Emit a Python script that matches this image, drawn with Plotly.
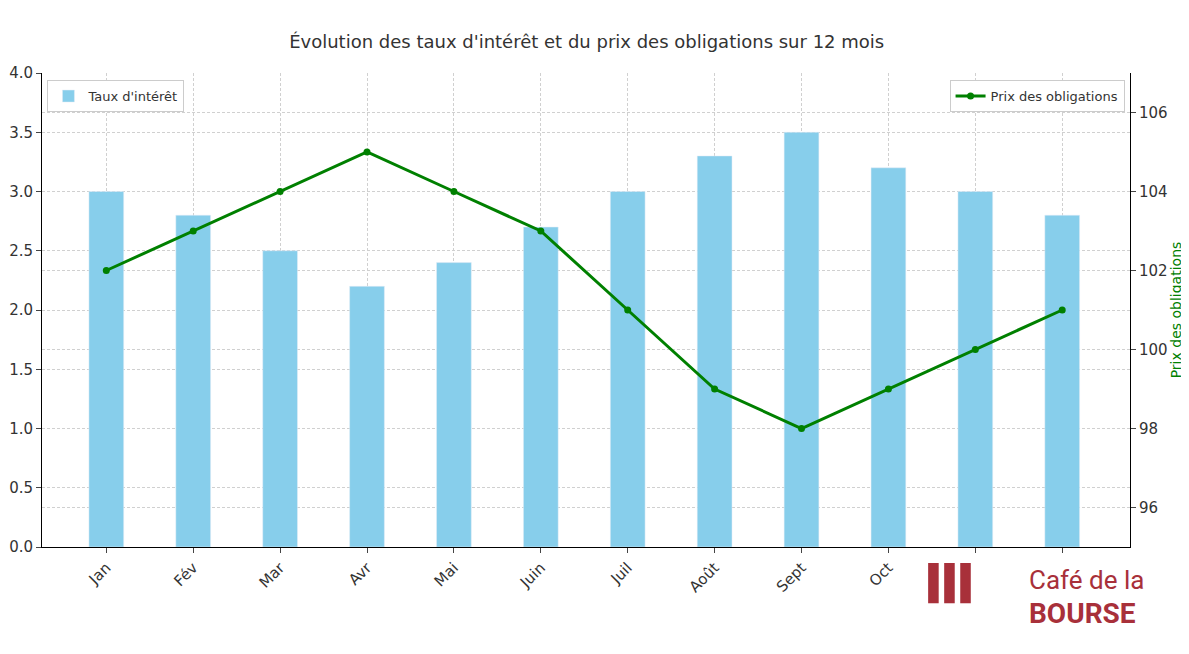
import plotly.graph_objects as go

months = ['Jan', 'Fév', 'Mar', 'Avr', 'Mai', 'Juin', 'Juil', 'Août', 'Sept', 'Oct', 'Nov', 'Déc']
taux = [3.0, 2.8, 2.5, 2.2, 2.4, 2.7, 3.0, 3.3, 3.5, 3.2, 3.0, 2.8]
prix = [102, 103, 104, 105, 104, 103, 101, 99, 98, 99, 100, 101]

fig = go.Figure()
fig.add_trace(go.Bar(x=months, y=taux, name="Taux d'intérêt", marker_color='#87CEEB',
                     width=0.4, legend='legend', showlegend=True))
fig.add_trace(go.Scatter(x=months, y=prix, name='Prix des obligations', yaxis='y2',
                         mode='lines+markers', line=dict(color='green', width=3),
                         marker=dict(size=7, color='green'), legend='legend2', showlegend=True))

grid = dict(showgrid=True, gridcolor='#d0d0d0', griddash='3px,2px', gridwidth=1, automargin=False)
fig.update_layout(
    width=1181, height=646,
    margin=dict(l=34, r=59, t=65, b=107),
    paper_bgcolor='white', plot_bgcolor='white',
    font=dict(family='DejaVu Sans', color='#333', size=15),
    title=dict(text="Évolution des taux d'intérêt et du prix des obligations sur 12 mois",
               x=0.49, xanchor='center', y=0.957, font=dict(size=18)),
    xaxis=dict(tickangle=-45, showline=True, linecolor='black', ticks='outside',
               ticklen=5, range=[-0.74, 11.78], **grid),
    yaxis=dict(range=[0, 4], dtick=0.5, tickformat='.1f', showline=True, linecolor='black',
               ticks='outside', ticklen=5, zeroline=False, **grid),
    yaxis2=dict(overlaying='y', side='right', range=[95, 107], tickvals=[96, 98, 100, 102, 104, 106],
                showline=True, linecolor='black', ticks='outside', ticklen=5,
                title=dict(text='Prix des obligations', font=dict(color='green', size=14), standoff=2),
                zeroline=False, **grid),
    legend=dict(x=0.005, y=0.985, xanchor='left', yanchor='top', bgcolor='white',
                bordercolor='#ccc', borderwidth=1, font=dict(size=13)),
    legend2=dict(x=0.995, y=0.985, xanchor='right', yanchor='top', bgcolor='white',
                 bordercolor='#ccc', borderwidth=1, font=dict(size=13)),
)

# logo area
fig.add_shape(type='rect', xref='paper', yref='paper', x0=0.82, x1=1.06, y0=-0.2, y1=-0.015,
              fillcolor='white', line_width=0, layer='above')
fig.add_annotation(xref='paper', yref='paper', x=0.86, y=-0.15, text='<b>Ⅲ</b>', showarrow=False,
                   font=dict(size=56, color='#a8303a'))
fig.add_annotation(xref='paper', yref='paper', x=0.905, y=-0.105, xanchor='left', text='Café de la',
                   showarrow=False, font=dict(size=26, color='#a8303a', family='Roboto'))
fig.add_annotation(xref='paper', yref='paper', x=0.905, y=-0.18, xanchor='left', text='<b>BOURSE</b>',
                   showarrow=False, font=dict(size=28, color='#a8303a', family='Roboto'))

fig.write_html('out.html')
